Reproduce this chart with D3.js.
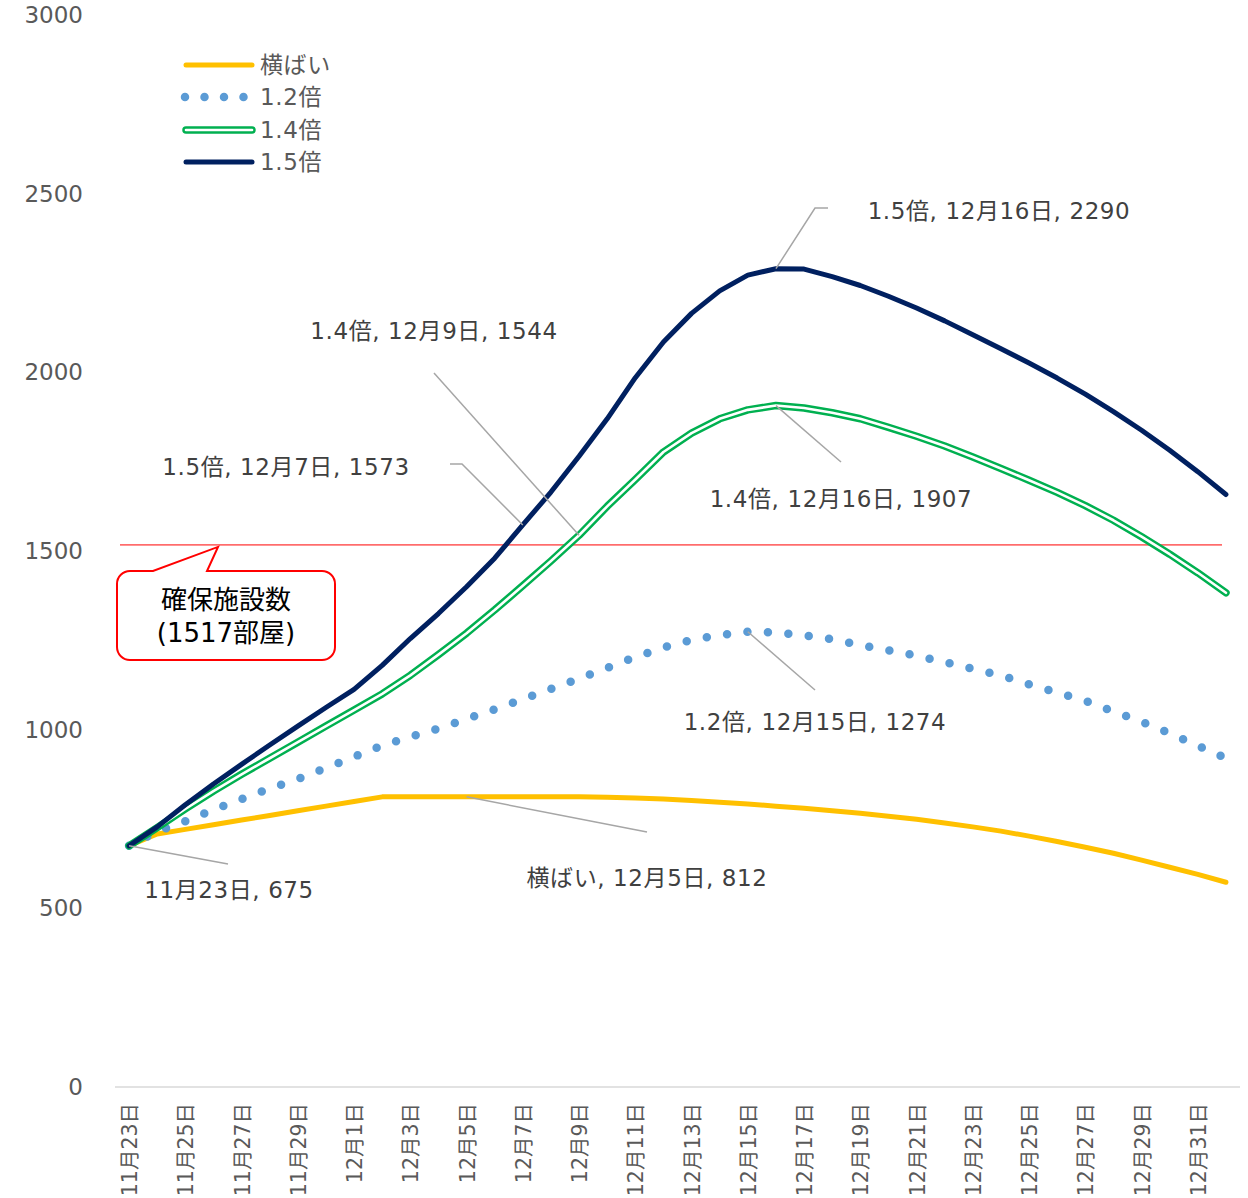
<!DOCTYPE html>
<html><head><meta charset="utf-8">
<script src="https://cdn.jsdelivr.net/npm/d3@7"></script>
<style>body{margin:0;background:#fff}</style>
</head><body><svg id="c" width="1248" height="1198"></svg>
<script>
// ---------- data ----------
const categories = (function(){
  const c=[];
  for(let d=23; d<=30; d++) c.push("11月"+d+"日");
  for(let d=1; d<=31; d++) c.push("12月"+d+"日");
  c.push("1月1日");
  return c;
})();
const seriesNames = ["横ばい","1.2倍","1.4倍","1.5倍"];
const flatValues = [675,708,721,734,747,760,773,786,799,812,812,812,812,812,812,812,812,811,809,806,802,797,792,786,780,773,766,758,749,739,728,716,702,687,671,654,635,615,595,573];
const x12Values  = [675,715,744,776,806,835,862,893,924,956,980,1003,1030,1057,1085,1114,1143,1173,1203,1230,1251,1265,1274,1272,1264,1253,1237,1222,1207,1189,1170,1152,1127,1104,1081,1051,1022,990,955,920];
const x14Values  = [675,726,778,828,875,920,965,1010,1055,1100,1152,1210,1270,1335,1403,1472,1544,1625,1700,1777,1830,1870,1895,1907,1900,1887,1870,1846,1821,1794,1763,1731,1698,1664,1627,1586,1540,1491,1439,1383];
const x15Values  = [675,728,790,848,903,957,1010,1062,1113,1180,1255,1325,1400,1480,1573,1665,1765,1870,1985,2085,2165,2228,2272,2290,2289,2268,2243,2213,2180,2144,2105,2066,2026,1984,1939,1890,1838,1782,1722,1658];
const yTicks = [0,500,1000,1500,2000,2500,3000];
const capacityValue = 1517;
const capacityText = ["確保施設数","(1517部屋)"];
// data labels: [series index (-1 = no name), category index]
const labelPoints = [[3,23],[2,16],[3,14],[2,23],[1,22],[0,12],[-1,0]];

// ---------- layout ----------
const svg=d3.select("#c");
const x=d3.scalePoint().domain(categories).range([115,1240]).padding(0.5);
const y=d3.scaleLinear().domain([0,3000]).range([1087,15]);
const font='"DejaVu Sans","Noto Sans CJK JP",sans-serif';
const allSeries=[flatValues,x12Values,x14Values,x15Values];

// y tick labels
svg.append("g").selectAll("text").data(yTicks).join("text")
  .attr("x",83).attr("y",d=>y(d)).attr("text-anchor","end").attr("dominant-baseline","central")
  .attr("font-family",font).attr("font-size",23).attr("fill","#595959").text(d=>d);

// x axis line
svg.append("line").attr("x1",115).attr("x2",1240).attr("y1",y(0)).attr("y2",y(0))
  .attr("stroke","#d9d9d9").attr("stroke-width",1.5);

// x tick labels
svg.append("g").selectAll("text").data(categories.filter((d,i)=>i%2===0)).join("text")
  .attr("transform",d=>`translate(${x(d)+1},1103) rotate(-90)`)
  .attr("text-anchor","end").attr("dominant-baseline","central")
  .attr("font-family",font).attr("font-size",20.5).attr("fill","#595959").text(d=>d);

// capacity line
svg.append("line").attr("x1",120).attr("x2",1222).attr("y1",y(capacityValue)).attr("y2",y(capacityValue))
  .attr("stroke","#ff0000").attr("stroke-width",1);

const line=d3.line().x((d,i)=>x(categories[i])).y(d=>y(d));

// series
const styles=[
  [{stroke:"#FFC000",w:5}],
  [{stroke:"#5B9BD5",w:8.5,dash:"0 20.5"}],
  [{stroke:"#00B050",w:7.5},{stroke:"#ffffff",w:2.6}],
  [{stroke:"#002060",w:5}]
];
allSeries.forEach((vals,si)=>{
  styles[si].forEach(st=>{
    svg.append("path").attr("d",line(vals)).attr("fill","none")
      .attr("stroke",st.stroke).attr("stroke-width",st.w)
      .attr("stroke-linecap","round").attr("stroke-linejoin","round")
      .attr("stroke-dasharray",st.dash||null);
  });
});

// legend
const legRows=[65,97,130,162];
seriesNames.forEach((n,si)=>{
  const ly=legRows[si];
  const x1=si===1?185:186, x2=si===1?245:252;
  styles[si].forEach(st=>{
    svg.append("line").attr("x1",x1).attr("x2",x2).attr("y1",ly).attr("y2",ly)
      .attr("stroke",st.stroke).attr("stroke-width",st.w).attr("stroke-linecap","round")
      .attr("stroke-dasharray",st.dash?"0 19.5":null);
  });
  svg.append("text").attr("x",260).attr("y",ly).attr("dominant-baseline","central")
    .attr("font-family",font).attr("font-size",23).attr("letter-spacing",0.6)
    .attr("fill","#595959").text(n);
});

// data labels (text center + leader geometry)
const labelLayout=[
  {cx:999,cy:211,leader:[[815,208],[828,208]]},
  {cx:434,cy:331,leader:[[434,373]]},
  {cx:286,cy:467,leader:[[462,464],[450,464]]},
  {cx:841,cy:499,leader:[[841,462]]},
  {cx:815,cy:722,leader:[[815,690]]},
  {cx:647,cy:878,leader:[[647,832]]},
  {cx:229,cy:890,leader:[[228,864]]}
];
labelPoints.forEach(([si,ci],k)=>{
  const vals=allSeries[Math.max(si,0)];
  const px=x(categories[ci]), py=y(vals[ci]);
  const L=labelLayout[k];
  const pts=[[px,py]].concat(L.leader);
  svg.append("path").attr("d",d3.line()(pts)).attr("fill","none")
    .attr("stroke","#a6a6a6").attr("stroke-width",1.5);
  const txt=(si>=0?seriesNames[si]+", ":"")+categories[ci]+", "+vals[ci];
  svg.append("text").attr("x",L.cx).attr("y",L.cy).attr("text-anchor","middle")
    .attr("dominant-baseline","central").attr("font-family",font).attr("font-size",23)
    .attr("letter-spacing",0.6).attr("fill","#404040").text(txt);
});

// callout
const cy0=y(capacityValue);
const bx=117,by=571,bw=218,bh=89,r=13;
const callout=d3.path();
callout.moveTo(bx+r,by);
callout.lineTo(153,by);
callout.lineTo(218,cy0+2);
callout.lineTo(207,by);
callout.lineTo(bx+bw-r,by);
callout.arcTo(bx+bw,by,bx+bw,by+r,r);
callout.lineTo(bx+bw,by+bh-r);
callout.arcTo(bx+bw,by+bh,bx+bw-r,by+bh,r);
callout.lineTo(bx+r,by+bh);
callout.arcTo(bx,by+bh,bx,by+bh-r,r);
callout.lineTo(bx,by+r);
callout.arcTo(bx,by,bx+r,by,r);
callout.closePath();
svg.append("path").attr("d",callout.toString()).attr("fill","#fff").attr("stroke","#ff0000").attr("stroke-width",2);
capacityText.forEach((t,i)=>{
  svg.append("text").attr("x",226).attr("y",600+i*33).attr("text-anchor","middle")
    .attr("dominant-baseline","central").attr("font-family",font).attr("font-size",26)
    .attr("fill","#000").text(t);
});
</script></body></html>
